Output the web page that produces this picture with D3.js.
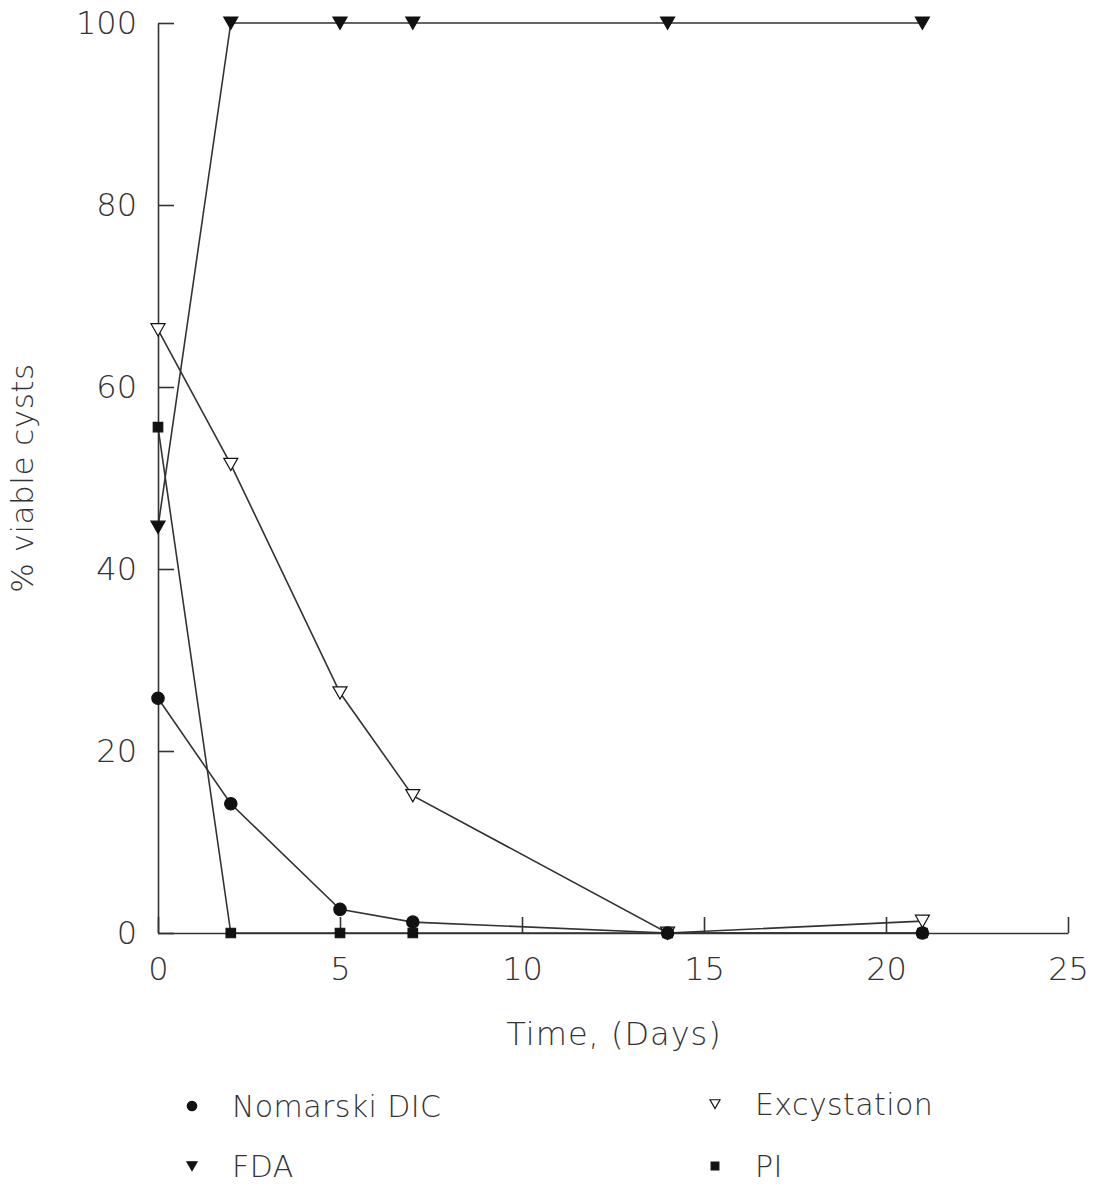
<!DOCTYPE html>
<html>
<head>
<meta charset="utf-8">
<script src="https://cdn.jsdelivr.net/npm/d3@7"></script>
<style>
  body { margin: 0; background: #fff; }
  text { font-family: 'DejaVu Sans', sans-serif; font-weight: 200; fill: #333; }
</style>
</head>
<body>
<svg id="chart" width="1098" height="1184"></svg>
<script>
// data
const days = [0, 2, 5, 7, 14, 21];
const nomarski = [25.8, 14.2, 2.6, 1.2, 0, 0];
const excystation = [66.3, 51.5, 26.4, 15.1, 0, 1.3];
const fda = [44.6, 100, 100, 100, 100, 100];
const pi = [55.6, 0, 0, 0, 0, 0];
const xTicks = [0, 5, 10, 15, 20, 25];
const yTicks = [0, 20, 40, 60, 80, 100];

const series = [
  { name: 'PI', values: pi, symbol: d3.symbolSquare, size: 90, fill: '#111' },
  { name: 'FDA', values: fda, symbol: 'tri', size: 7, fill: '#111' },
  { name: 'Excystation', values: excystation, symbol: 'tri', size: 7, fill: '#fff' },
  { name: 'Nomarski DIC', values: nomarski, symbol: d3.symbolCircle, size: 120, fill: '#111' },
];

const svg = d3.select('#chart');
const margin = { top: 23, left: 158 };
const width = 910;
const height = 910;
const stroke = '#333';

const x = d3.scaleLinear().domain([0, 25]).range([0, width]);
const y = d3.scaleLinear().domain([0, 100]).range([height, 0]);

const plot = svg.append('g')
  .attr('transform', `translate(${[margin.left, margin.top]})`);

// down-pointing triangle path, r = half width
function triPath(r) {
  return `M${-r},${-r * 0.85}L${r},${-r * 0.85}L0,${r * 0.9}Z`;
}
function markerPath(s) {
  return s.symbol === 'tri' ? triPath(s.size) : d3.symbol(s.symbol, s.size)();
}

const yAxis = plot.append('g')
  .call(d3.axisLeft(y).tickValues(yTicks).tickSize(-16).tickSizeOuter(0).tickPadding(21));
const xAxis = plot.append('g')
  .attr('transform', `translate(0,${height})`)
  .call(d3.axisBottom(x).tickValues(xTicks).tickSize(-16).tickSizeOuter(0).tickPadding(24));

[yAxis, xAxis].forEach((ax) => {
  ax.selectAll('path, line').attr('stroke', stroke).attr('stroke-width', 1.6);
  ax.selectAll('text')
    .attr('font-size', 32)
    .style('font-family', "'DejaVu Sans', sans-serif")
    .style('font-weight', 200)
    .attr('fill', '#333');
});

const line = d3.line()
  .x((d, i) => x(days[i]))
  .y(d => y(d));

series.forEach((s) => {
  plot.append('path')
    .attr('d', line(s.values))
    .attr('fill', 'none')
    .attr('stroke', stroke)
    .attr('stroke-width', 1.6);
});

series.forEach((s) => {
  plot.append('g')
    .selectAll('path')
    .data(s.values)
    .enter()
    .append('path')
    .attr('transform', (d, i) => `translate(${x(days[i])},${y(d)})`)
    .attr('d', markerPath(s))
    .attr('fill', s.fill)
    .attr('stroke', '#111')
    .attr('stroke-width', 1.2);
});

// axis titles
svg.append('text')
  .attr('x', 614)
  .attr('y', 1045)
  .attr('text-anchor', 'middle')
  .attr('font-size', 32)
  .attr('letter-spacing', 1)
  .text('Time, (Days)');

svg.append('text')
  .attr('transform', 'translate(33,478) rotate(-90)')
  .attr('text-anchor', 'middle')
  .attr('font-size', 31)
  .attr('letter-spacing', 0.5)
  .text('% viable cysts');

// legend
const legendItems = [
  { s: series[3], x: 192, y: 1106, size: 70 },
  { s: series[2], x: 715, y: 1104, size: 5 },
  { s: series[1], x: 192, y: 1166, size: 5 },
  { s: series[0], x: 715, y: 1166, size: 60 },
];

const legend = svg.append('g');
legendItems.forEach((it) => {
  const s = Object.assign({}, it.s, { size: it.size });
  legend.append('path')
    .attr('transform', `translate(${it.x},${it.y})`)
    .attr('d', markerPath(s))
    .attr('fill', s.fill)
    .attr('stroke', '#111')
    .attr('stroke-width', 1.2);
  legend.append('text')
    .attr('x', it.x + 40)
    .attr('y', it.y + 11)
    .attr('font-size', 30)
    .attr('letter-spacing', 0.4)
    .text(s.name);
});
</script>
</body>
</html>
